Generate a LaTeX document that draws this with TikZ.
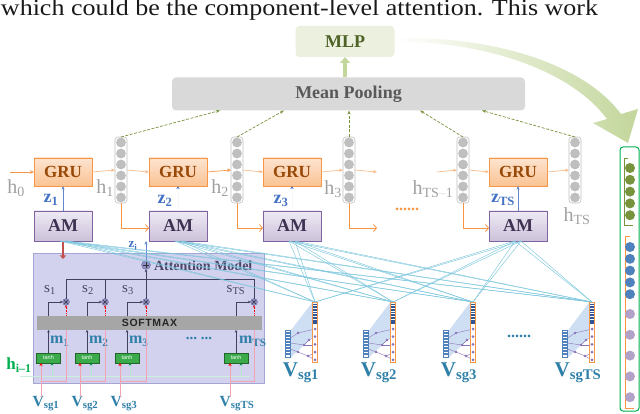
\documentclass[tikz,border=0pt]{standalone}
\usepackage{graphicx}
\usepackage{fontspec}
\setmainfont{Liberation Serif}
\setsansfont{Liberation Sans}
\usetikzlibrary{arrows.meta,calc}
\definecolor{gruB}{HTML}{F79646}
\definecolor{gruF}{HTML}{FAC393}
\definecolor{gruT}{HTML}{FDE4D0}
\definecolor{gruTx}{HTML}{984807}
\definecolor{amB}{HTML}{8064A2}
\definecolor{amF}{HTML}{CCC1DA}
\definecolor{amT}{HTML}{EEEAF4}
\definecolor{amTx}{HTML}{3F3151}
\definecolor{orfade}{HTML}{F9BE8E}
\definecolor{zblue}{HTML}{4472C4}
\definecolor{hgray}{HTML}{A0A0A0}
\definecolor{oliveg}{HTML}{77933C}
\definecolor{mlpF}{HTML}{EBF1DE}
\definecolor{mlpTx}{HTML}{4F6228}
\definecolor{lgreen}{HTML}{C3D69B}
\definecolor{poolF}{HTML}{D9D9D9}
\definecolor{poolTx}{HTML}{595959}
\definecolor{cyanl}{HTML}{7CC6DC}
\definecolor{attF}{HTML}{D2D1EE}
\definecolor{attB}{HTML}{A5A5D6}
\definecolor{attTx}{HTML}{4A4566}
\definecolor{vteal}{HTML}{2F80A8}
\definecolor{dline}{HTML}{404060}
\definecolor{pinkl}{HTML}{F4A3B0}
\definecolor{tanhF}{HTML}{3AAA4A}
\definecolor{hgreen}{HTML}{00B050}
\definecolor{circG}{HTML}{BFBFBF}
\definecolor{vblue}{HTML}{4F81BD}
\definecolor{vpurp}{HTML}{B3A2C7}
\definecolor{vpurpD}{HTML}{8A72B8}
\definecolor{sqblue}{HTML}{2F5597}
\definecolor{icshade}{HTML}{C6D9F1}
\definecolor{darkred}{HTML}{C0504D}
\definecolor{opl}{HTML}{8E8EC8}
\definecolor{smF}{HTML}{A6A6A6}

\newcommand\mkicon[3]{%
  \fill[icshade,opacity=0.85] (#2-24.5,331) -- (#2-2.5,302) -- (#2-2.5,337) -- (#2-24.5,358) -- cycle;
  \draw[vpurpD,line width=0.4pt] (#2-24.5,338) -- (#2-17,333) -- (#2,329);
  \draw[vpurpD,line width=0.4pt] (#2-24.5,343) -- (#2-11,345) -- (#2-6,340) -- (#2,337);
  \draw[vpurpD,line width=0.4pt] (#2-11,345) -- (#2,345);
  \draw[vpurpD,line width=0.4pt] (#2-24.5,349) -- (#2-17,352) -- (#2-7,356) -- (#2,353);
  \draw[vpurpD,line width=0.4pt] (#2-7,356) -- (#2,360);
  \foreach \p in {{(#2-17,333)},{(#2-11,345)},{(#2-6,340)},{(#2-17,352)},{(#2-7,356)}} \fill[vpurpD] \p circle (1.4pt);
  \node[draw=gruB, line width=0.5pt, fill=white, minimum width=5pt, minimum height=60pt] (#1) at (#2,332) {};
  \node[draw=vblue, line width=0.5pt, fill=white, minimum width=5pt, minimum height=27pt] (#1l) at (#2-27,343.5) {};
  \foreach \k in {0,...,7} \fill[sqblue] (#2-1.6,303.5+2.7*\k) rectangle (#2+1.6,305.3+2.7*\k);
  \foreach \k in {0,...,7} \fill[vblue] (#2-28.6,331.5+3*\k) rectangle (#2-25.4,333.5+3*\k);
  \foreach \k in {0,...,4} \fill[vpurpD] (#2,329+7.7*\k) circle (1.5pt);
  \node[text=vteal, font=\fontsize{21}{21}\selectfont\bfseries] (#1lab) at (#2-14,373) {V\textsubscript{sg#3}};
}

\begin{document}
\begin{tikzpicture}[x=1pt,y=-1pt,
  every node/.style={inner sep=0pt, outer sep=0pt},
  gru/.style={draw=gruB, line width=0.7pt, top color=gruT, bottom color=gruF, minimum width=58pt, minimum height=28pt, text=gruTx, font=\fontsize{17}{17}\selectfont\bfseries},
  am/.style={draw=amB, line width=0.7pt, top color=amT, bottom color=amF, minimum width=58pt, minimum height=30pt, text=amTx, font=\fontsize{18}{18}\selectfont\bfseries},
  hcolumn/.style={draw=circG, line width=0.6pt, fill=white, rounded corners=3pt, minimum width=12pt, minimum height=66pt},
  hlab/.style={text=hgray, font=\fontsize{20}{20}\selectfont},
  zlab/.style={text=zblue, font=\fontsize{18}{18}\selectfont\bfseries},
  fwd/.style={draw=orfade, line width=0.7pt, -{Stealth[length=4pt,width=3.5pt]}},
  fwdd/.style={draw=gruB, line width=0.7pt, -{Stealth[length=4pt,width=3.5pt]}},
  toam/.style={draw=gruB, line width=0.8pt, -{Straight Barb[length=3pt,width=7pt]}},
  zarr/.style={draw=zblue!85, line width=0.7pt, -{Stealth[length=3.5pt,width=3pt]}},
  zfaint/.style={draw=zblue!6, line width=0.5pt, -{Stealth[length=3pt,width=3pt,color=zblue]}},
  pooldash/.style={draw=oliveg, line width=0.7pt, dash pattern=on 3pt off 1.5pt, -{Stealth[length=4pt,width=3pt]}},
  cyanline/.style={draw=cyanl, line width=0.45pt},
  dl/.style={draw=dline, line width=0.7pt},
  dlarr/.style={draw=dline, line width=0.7pt, -{Stealth[length=2.5pt,width=2.5pt]}},
  reddash/.style={draw=red, line width=0.6pt, dash pattern=on 1.2pt off 1pt, -{Stealth[length=2pt,width=2pt]}},
  pinkin/.style={draw=pinkl, line width=0.8pt, -{Stealth[length=3pt,width=3pt,color=red]}},
  pinkloop/.style={draw=pinkl, line width=0.8pt},
  greenin/.style={draw=hgreen!30, line width=0.6pt, -{Stealth[length=2.5pt,width=2.5pt,color=hgreen!80!black]}},
  tanhbox/.style={draw=tanhF!60!black, line width=0.3pt, fill=tanhF, minimum width=24pt, minimum height=10pt, text=white, font=\sffamily\fontsize{5.5}{5.5}\selectfont},
  mlab/.style={text=vteal, font=\fontsize{16}{16}\selectfont\bfseries, anchor=west},
  slab/.style={text=attTx, font=\fontsize{15}{15}\selectfont},
  vlab/.style={text=vteal, font=\fontsize{15.5}{15.5}\selectfont\bfseries},
  opnode/.style={circle, fill=opl, draw=opl!70!black, line width=0.3pt, minimum size=#1},
]
\useasboundingbox (0,0) rectangle (640,414);
\clip (0,0) rectangle (640,414);

% top text
\node[anchor=base west, text=black!90] (toptext) at (1,16) {\resizebox{597pt}{\height}{\fontsize{23}{23}\selectfont which could be the component-level attention. This work}};

% big curved arrow
\shade[left color=white, right color=lgreen, draw=none]
  (396,38) .. controls (490,36) and (582,62) .. (621,114)
  -- (638,109) -- (628,143) -- (593,123) -- (607,119)
  .. controls (572,72) and (490,42) .. (396,41.5) -- cycle;

% MLP and pooling
\node[fill=mlpF, rounded corners=4pt, minimum width=99pt, minimum height=31pt, text=mlpTx, font=\fontsize{18}{18}\selectfont\bfseries] (mlp) at (345,41.5) {MLP};
\node[fill=poolF, rounded corners=4pt, minimum width=353pt, minimum height=33pt, text=poolTx, font=\fontsize{18}{18}\selectfont\bfseries] (pool) at (348.5,94) {Mean Pooling};
\draw[lgreen, line width=4pt, -{Triangle[length=6pt,width=10pt]}] (mlp.south |- pool.north) -- (mlp.south);

% GRU and AM
\node[gru] (g1) at (63,172) {GRU};
\node[gru] (g2) at (178,172) {GRU};
\node[gru] (g3) at (292,172) {GRU};
\node[gru] (gT) at (518,172) {GRU};
\node[am] (a1) at (63,226) {AM};
\node[am] (a2) at (178,226) {AM};
\node[am] (a3) at (292,226) {AM};
\node[am] (aT) at (518,226) {AM};

% hidden columns
\foreach \n/\x in {c1/121,c2/237,c3/349,cM/463,cT/575}{
  \node[hcolumn] (\n) at (\x,170) {};
  \foreach \k in {0,...,5} \fill[circG] (\x,142.5+11*\k) circle (4.9pt);
}

% labels h, z
\node[hlab] (h0) at (16,188) {h\textsubscript{0}};
\node[hlab] (h1) at (105,188) {h\textsubscript{1}};
\node[hlab] (h2) at (220,188) {h\textsubscript{2}};
\node[hlab] (h3) at (333,189) {h\textsubscript{3}};
\node[hlab] (hM) at (433,189) {h\textsubscript{TS\textcolor{hgray!35}{--}1}};
\node[hlab] (hT) at (577,216) {h\textsubscript{TS}};
\node[zlab] (z1) at (51,200) {z\textsubscript{1}};
\node[zlab] (z2) at (165,201) {z\textsubscript{2}};
\node[zlab] (z3) at (281,201) {z\textsubscript{3}};
\node[zlab] (zT) at (503,200) {z\textsubscript{TS}};
\node[text=gruB, font=\fontsize{16}{16}\selectfont\bfseries] (odots) at (407,209) {......};

% horizontal recurrences
\coordinate (h0s) at (10,172);
\coordinate (e3) at (377,172);
\coordinate (sM) at (437,172);
\coordinate (e3b) at (377,228);
\draw[fwdd] (h0s) -- (g1.west);
\draw[fwd] (g1.east) -- (c1.west);
\draw[fwd] (c1.east) -- (g2.west);
\draw[fwdd] (g2.east) -- (c2.west);
\draw[fwd] (c2.east) -- (g3.west);
\draw[fwd] (g3.east) -- (c3.west);
\draw[fwd] (c3.east) -- (e3);
\draw[fwd] (sM) -- (cM.west);
\draw[fwd] (cM.east) -- (gT.west);
\draw[fwd] (gT.east) -- (cT.west);

% to AM
\draw[toam] (c1.south) |- ([yshift=-2pt]a2.west);
\draw[toam] (c2.south) |- ([yshift=-2pt]a3.west);
\draw[toam] (c3.south) |- (e3b);
\draw[toam] (cM.south) |- ([yshift=-2pt]aT.west);

% z arrows
\draw[zarr] (a1.north) -- (g1.south);
\draw[zfaint] (a2.north) -- (g2.south);
\draw[zfaint] (a3.north) -- (g3.south);
\draw[zarr] (aT.north) -- (gT.south);

% pooling arrows
\draw[pooldash] (c1.north) -- ($(pool.south west)+(48,0)$);
\draw[pooldash] (c2.north) -- ($(pool.south west)+(112,0)$);
\draw[pooldash] (c3.north) -- ($(pool.south west)+(177,0)$);
\draw[pooldash] (cM.north) -- ($(pool.south west)+(248,0)$);
\draw[pooldash] (cT.north) -- ($(pool.south west)+(310,0)$);

% attention model box
\node[fill=attF, draw=attB, line width=0.6pt, minimum width=231pt, minimum height=130pt] (att) at (148.5,318) {};
\node[opnode=9pt, path picture={\draw[black!80,line width=0.8pt] ($(path picture bounding box.north)!0.2!(path picture bounding box.south)$) -- ($(path picture bounding box.north)!0.8!(path picture bounding box.south)$) ($(path picture bounding box.west)!0.2!(path picture bounding box.east)$) -- ($(path picture bounding box.west)!0.8!(path picture bounding box.east)$);}] (plus) at (146,265) {};
\node[anchor=west, text=attTx, font=\fontsize{14}{14}\selectfont\bfseries] (attl) at (154,265.5) {Attention Model};
\foreach \n/\x in {x1/66,x2/105,x3/146,xT/254}{
  \node[opnode=7pt, path picture={\draw[black!80,line width=0.6pt] ($(path picture bounding box.north west)!0.25!(path picture bounding box.south east)$) -- ($(path picture bounding box.north west)!0.75!(path picture bounding box.south east)$) ($(path picture bounding box.north east)!0.25!(path picture bounding box.south west)$) -- ($(path picture bounding box.north east)!0.75!(path picture bounding box.south west)$);}] (\n) at (\x,302) {};
}
\coordinate (bus) at (150,279);
\draw[dl] (x1.north) |- (bus -| xT.north) -- (xT.north);
\draw[dl] (x2.north) -- (x2.north |- bus);
\draw[dlarr] (x3.north) -- (plus.south);
\node[slab] (s1) at (50,290) {s\textsubscript{1}};
\node[slab] (s2) at (88,290) {s\textsubscript{2}};
\node[slab] (s3) at (128,290) {s\textsubscript{3}};
\node[slab] (sT) at (236,290) {s\textsubscript{TS}};

\node[fill=smF, minimum width=225pt, minimum height=14pt, text=black!85, font=\sffamily\bfseries\fontsize{10.5}{10.5}\selectfont\addfontfeature{LetterSpace=6}] (sm) at (149.5,323) {SOFTMAX};

\node[tanhbox] (t1) at (48.5,358) {tanh};
\node[tanhbox] (t2) at (87,358) {tanh};
\node[tanhbox] (t3) at (127,358) {tanh};
\node[tanhbox] (tT) at (236,358) {tanh};

\foreach \t/\x in {t1/x1,t2/x2,t3/x3,tT/xT}{
  \draw[dlarr] (\t.north) -- (\t.north |- sm.south);
  \draw[dlarr] (\t.north |- sm.north) |- (\x.west);
  \draw[reddash] (\x.south |- sm.north) -- (\x.south);
}
\node[mlab] (m1) at (50,341) {m\textsubscript{1}};
\node[mlab] (m2) at (89,341) {m\textsubscript{2}};
\node[mlab] (m3) at (129,341) {m\textsubscript{3}};
\node[mlab] (mT) at (239,341) {m\textsubscript{TS}};
\node[text=vteal, font=\fontsize{15}{15}\selectfont\bfseries] (mdots) at (199,338) {...\ ...};

% h_{i-1}
\coordinate (hline) at (20,376);
\coordinate (hlineE) at (250,376);
\draw[hgreen!20, line width=0.4pt] (hline) -- (hlineE);
\node[text=hgreen, font=\fontsize{17}{17}\selectfont\bfseries] (hi) at (19,365) {h\textsubscript{i--1}};
\coordinate (gi1) at (52,363);
\coordinate (gi2) at (91,363);
\coordinate (gi3) at (130,363);
\coordinate (giT) at (241,363);
\foreach \g in {gi1,gi2,gi3,giT} \draw[greenin] (\g |- hline) -- (\g);

% bottom V labels and pink inputs
\node[vlab] (v1) at (46,404) {V\textsubscript{sg1}};
\node[vlab] (v2) at (85,404) {V\textsubscript{sg2}};
\node[vlab] (v3) at (124,404) {V\textsubscript{sg3}};
\node[vlab] (vT) at (237,404) {V\textsubscript{sgTS}};
\coordinate (in1) at (41,363);
\coordinate (in2) at (80,363);
\coordinate (in3) at (120,363);
\coordinate (inT) at (230,363);
\coordinate (loop) at (0,381);
\foreach \i/\v/\x in {in1/v1/x1,in2/v2/x2,in3/v3/x3,inT/vT/xT}{
  \draw[pinkloop] (\i |- loop) -| (\x.south |- sm.south);
  \draw[pinkin] (\i |- \v.north) -- (\i);
}

% red arrow and z_i
\coordinate (redend) at (63,259);
\draw[darkred, line width=2.5pt, -{Triangle[length=3.5pt,width=6pt]}] (a1.south) -- (a1.south |- redend);
\draw[zarr] (plus.north) -- (plus.north |- a2.south);
\node[text=zblue, font=\fontsize{13}{13}\selectfont\bfseries] (zi) at (133,246) {z\textsubscript{i}};

% icons
\mkicon{i1}{315}{1}
\mkicon{i2}{393}{2}
\mkicon{i3}{473}{3}
\mkicon{iT}{592}{TS}
\node[text=vteal, font=\fontsize{16}{16}\selectfont\bfseries] (idots) at (519,336) {......};

% cyan connections
\foreach \a in {a1,a2,a3,aT}{
  \foreach \i in {i1,i2,i3,iT}{
    \draw[cyanline] ([xshift=-3pt]\a.south) -- (\i.north);
    \draw[cyanline] ([xshift=3pt]\a.south) -- (\i.north);
  }
}

% output vector
\node[draw=hgreen, line width=1pt, rounded corners=3pt, minimum width=19pt, minimum height=264pt] (outv) at (629.5,279) {};
\draw[oliveg, line width=0.7pt] (628,158) -- (624,158) -- (624,225) -- (633,225);
\foreach \k in {0,...,4} \fill[oliveg] (630,168+11.8*\k) circle (5pt);
\draw[gruB, line width=0.7pt] (630,236) -- (625,236) -- (625,408) -- (634,408);
\foreach \k in {0,...,4} \fill[vblue] (630,247+11.8*\k) circle (5pt);
\foreach \k in {0,...,4} \fill[vpurp] (630,314+20.8*\k) circle (5pt);
\end{tikzpicture}
\end{document}
